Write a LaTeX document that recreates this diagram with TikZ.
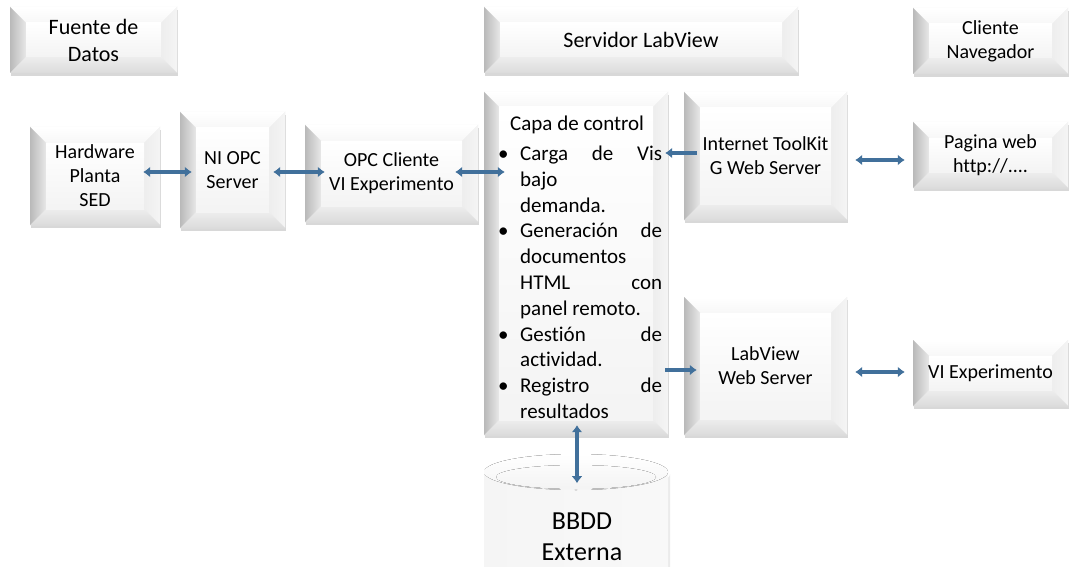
\documentclass[tikz,border=0pt]{standalone}
\usepackage{fontspec}
\setmainfont{Carlito}[Ligatures=NoCommon]
\usetikzlibrary{arrows.meta,calc,shadows}
\definecolor{arrowc}{HTML}{41709B}
\definecolor{facec}{HTML}{F2F2F2}
\pgfdeclarehorizontalshading{cylshade}{100bp}{color(0bp)=(gray!50); color(8bp)=(gray!22); color(20bp)=(gray!8); color(80bp)=(gray!5); color(100bp)=(gray!14)}
\tikzset{
  bevel/.style={rectangle, inner sep=0pt, fill=facec, align=center,
    font=\fontsize{20}{24}\selectfont,
    drop shadow={shadow xshift=0.5pt, shadow yshift=-3pt, opacity=0.3, fill=gray},
    path picture={
      \path (path picture bounding box.south west) coordinate (bvsw)
            (path picture bounding box.north east) coordinate (bvne)
            (path picture bounding box.north west) coordinate (bvnw)
            (path picture bounding box.south east) coordinate (bvse);
      \fill[top color=white, bottom color=gray!6]
        (bvnw) -- (bvne) -- ([shift={(-#1,-#1)}]bvne) -- ([shift={(#1,-#1)}]bvnw) -- cycle;
      \fill[left color=gray!14, right color=gray!8]
        (bvne) -- (bvse) -- ([shift={(-#1,#1)}]bvse) -- ([shift={(-#1,-#1)}]bvne) -- cycle;
      \fill[top color=gray!14, bottom color=gray!28]
        (bvse) -- (bvsw) -- ([shift={(#1,#1)}]bvsw) -- ([shift={(-#1,#1)}]bvse) -- cycle;
      \fill[left color=gray!55, right color=gray!18]
        (bvsw) -- (bvnw) -- ([shift={(#1,-#1)}]bvnw) -- ([shift={(#1,#1)}]bvsw) -- cycle;
      \fill[top color=white, bottom color=gray!9]
        ([shift={(#1,#1)}]bvsw) rectangle ([shift={(-#1,-#1)}]bvne);
    }},
  bevel/.default=16pt,
  header/.style={bevel, font=\fontsize{22}{27}\selectfont},
  conn/.style={draw=arrowc, line width=4pt},
  dbl/.style={conn, {Latex[length=7pt,width=11pt]}-{Latex[length=7pt,width=11pt]}},
  sgl/.style={conn, -{Latex[length=7pt,width=11pt]}},
}
\begin{document}
\begin{tikzpicture}[x=1pt,y=-1pt]
\useasboundingbox (0,0) rectangle (1070,567);
\fill[white] (0,0) rectangle (1070,567);

% headers
\node[header, minimum width=167pt, minimum height=66pt] (fuente) at (93.5,40) {Fuente de\\Datos};
\node[header, minimum width=314pt, minimum height=66pt] (servidor) at (641,40) {Servidor LabView};
\node[bevel, minimum width=155pt, minimum height=66pt] (cliente) at (990.5,41) {Cliente\\Navegador};

% chain
\node[bevel, minimum width=130pt, minimum height=98pt] (hardware) at (95,176) {Hardware\\Planta\\SED};
\node[bevel, minimum width=105pt, minimum height=116pt] (niopc) at (232.5,170) {NI OPC\\Server};
\node[bevel, minimum width=173pt, minimum height=97pt] (opccli) at (391.5,173.5) {OPC Cliente\\VI Experimento};

% control layer
\node[bevel=15pt, minimum width=184pt, minimum height=343pt] (capa) at (576,263.5) {};
\node[anchor=north west, inner sep=0pt, align=left, font=\fontsize{21}{25.8}\selectfont] (capatxt) at (498,116)
{\hspace*{12pt}Capa de control\\[4pt]
\makebox[22pt][l]{•}\makebox[142pt][s]{Carga de Vis}\\
\hspace*{22pt}bajo\\
\hspace*{22pt}demanda.\\
\makebox[22pt][l]{•}\makebox[142pt][s]{Generación de}\\
\hspace*{22pt}documentos\\
\hspace*{22pt}\makebox[142pt][s]{HTML con}\\
\hspace*{22pt}panel remoto.\\
\makebox[22pt][l]{•}\makebox[142pt][s]{Gestión de}\\
\hspace*{22pt}actividad.\\
\makebox[22pt][l]{•}\makebox[142pt][s]{Registro de}\\
\hspace*{22pt}resultados};

% servers
\node[bevel, minimum width=163pt, minimum height=128pt] (itk) at (765.5,156) {Internet ToolKit\\G Web Server};
\node[bevel, minimum width=163pt, minimum height=138pt] (lvws) at (765.5,366) {LabView\\Web Server};

% clients
\node[bevel, minimum width=155pt, minimum height=66pt] (pagina) at (990.5,155) {Pagina web\\http://....};
\node[bevel, minimum width=155pt, minimum height=66pt] (viexp) at (990.5,373) {VI Experimento};

% database cylinder
\fill[gray!30, opacity=0.5] (486,474) -- (486,580) -- (670,580) -- (670,474) arc[start angle=0, end angle=180, x radius=92, y radius=18];
\shade[shading=cylshade]
  (484,472) -- (484,580) -- (668,580) -- (668,472) arc[start angle=0, end angle=-180, x radius=92, y radius=18];
\fill[top color=white, bottom color=gray!8] (576,472) ellipse[x radius=92, y radius=18];
\fill[top color=gray!3, bottom color=gray!9] (576,477) ellipse[x radius=80, y radius=12];
\node[align=center, inner sep=0pt, font=\fontsize{26}{31}\selectfont] (bbdd) at (582,537) {BBDD\\Externa};

% connectors
\draw[dbl] ([shift={(-17pt,4pt)}]hardware.east) -- ([shift={(12pt,4pt)}]hardware.east -| niopc.west);
\draw[dbl] ([shift={(-12pt,-2pt)}]niopc.east) -- ([shift={(20pt,-2pt)}]niopc.east -| opccli.west);
\draw[dbl] ([shift={(-23pt,1.5pt)}]opccli.east) -- ([shift={(21pt,1.5pt)}]opccli.east -| capa.west);
\draw[sgl] ([shift={(13pt,3pt)}]itk.west) -- ([shift={(-3pt,3pt)}]itk.west -| capa.east);
\draw[dbl] ([shift={(8pt,-4pt)}]itk.east) -- ([shift={(-8pt,-4pt)}]itk.east -| pagina.west);
\draw[sgl] ([shift={(-3pt,-4pt)}]lvws.west -| capa.east) -- ([shift={(13pt,-4pt)}]lvws.west);
\draw[dbl] ([shift={(8pt,-6pt)}]lvws.east) -- ([shift={(-8pt,-6pt)}]lvws.east -| viexp.west);
\draw[dbl] ([shift={(1pt,10pt)}]capa.south) -- ([shift={(1pt,-48pt)}]capa.south);
\end{tikzpicture}
\end{document}
